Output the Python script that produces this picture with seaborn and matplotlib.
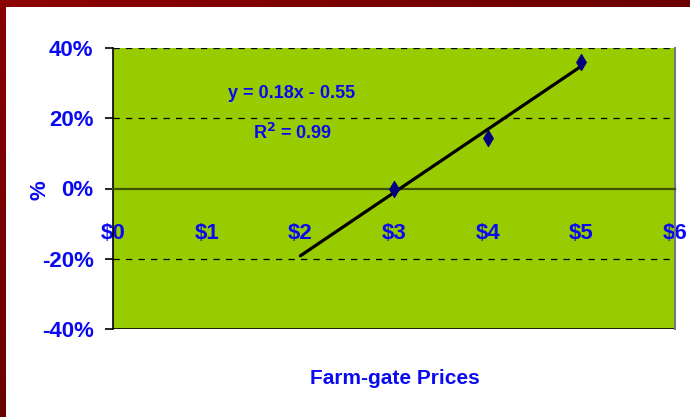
import numpy as np
import pandas as pd
import matplotlib
matplotlib.use("Agg")
import matplotlib.pyplot as plt
import seaborn as sns

# ---- data ----
prices = [3, 4, 5]                 # farm-gate price ($)
pct_change = [0.0, 0.145, 0.36]    # % change
x_ticks = [0, 1, 2, 3, 4, 5, 6]
x_tick_labels = ["$0", "$1", "$2", "$3", "$4", "$5", "$6"]
y_ticks = [-0.4, -0.2, 0.0, 0.2, 0.4]
y_tick_labels = ["-40%", "-20%", "0%", "20%", "40%"]
backward_forecast = 1

sns.set_theme(style="white")
FONT = ["Liberation Sans Narrow", "Liberation Sans", "DejaVu Sans"]
plt.rcParams["font.family"] = FONT
plt.rcParams["font.weight"] = "bold"

BLUE = "#0A0AF0"
GREEN = "#99CC00"

df = pd.DataFrame({"price": prices, "pct": pct_change})
slope, intercept = np.polyfit(df["price"], df["pct"], 1)
pred = slope * df["price"] + intercept
r2 = 1 - ((df["pct"] - pred) ** 2).sum() / ((df["pct"] - df["pct"].mean()) ** 2).sum()
fit_x = np.array([df["price"].min() - backward_forecast, df["price"].max()])
trend = pd.DataFrame({"price": fit_x, "pct": slope * fit_x + intercept})

fig = plt.figure(figsize=(6.9, 4.17), dpi=100)
fig.patch.set_facecolor("white")

# maroon frame (top and left)
grad = np.linspace(0, 1, 256).reshape(1, -1)
from matplotlib.colors import LinearSegmentedColormap
cm = LinearSegmentedColormap.from_list("m", ["#8E0404", "#7A0000", "#6A0000"])
top = fig.add_axes([0, 1 - 7 / 417, 1, 7 / 417])
top.imshow(grad, aspect="auto", cmap=cm)
top.axis("off")
left = fig.add_axes([0, 0, 6 / 690, 1])
left.imshow(grad.T, aspect="auto", cmap=LinearSegmentedColormap.from_list("m2", ["#8A0000", "#6A0000"]))
left.axis("off")

ax = fig.add_axes([113 / 690, 1 - 329 / 417, (675 - 113) / 690, (329 - 48) / 417])
ax.set_facecolor(GREEN)

sns.lineplot(data=trend, x="price", y="pct", ax=ax, color="black", lw=2.3, zorder=3)
sns.scatterplot(data=df, x="price", y="pct", ax=ax, marker="d", s=70,
                color="#000080", edgecolor="#000080", zorder=4)

ax.set_xlim(x_ticks[0], x_ticks[-1])
ax.set_ylim(y_ticks[0], y_ticks[-1])

# gridlines
for yv in y_ticks:
    if yv in (0.2, -0.2, 0.4):
        ax.axhline(yv, color="black", lw=0.9, ls=(0, (5, 5)), zorder=1)
ax.axhline(y_ticks[0], color="black", lw=1.2, zorder=2)

for s in ["top"]:
    ax.spines[s].set_visible(False)
ax.spines["left"].set_color("black")
ax.spines["left"].set_linewidth(1.2)
ax.spines["right"].set_color("#777777")
ax.spines["right"].set_linewidth(1.5)
ax.spines["bottom"].set_position(("data", 0))
ax.spines["bottom"].set_color("#3E5200")
ax.spines["bottom"].set_linewidth(1.6)

ax.set_xticks(x_ticks)
ax.set_xticklabels(x_tick_labels)
ax.set_yticks(y_ticks)
ax.set_yticklabels(y_tick_labels)
ax.tick_params(axis="x", direction="out", length=8, width=1.2, color="black",
               pad=17, labelsize=16, labelcolor=BLUE)
ax.tick_params(axis="y", direction="out", length=6, width=1.2, color="black",
               pad=8, labelsize=16, labelcolor=BLUE, left=True)
for lab in ax.get_xticklabels() + ax.get_yticklabels():
    lab.set_fontweight("bold")

ax.set_xlabel("")
ax.set_ylabel("")
fig.text(395 / 690, 1 - 379 / 417, "Farm-gate Prices", ha="center", va="center",
         color=BLUE, fontsize=15, fontweight="bold")
fig.text(40 / 690, 1 - 190 / 417, "%", ha="center", va="center", rotation=90,
         color=BLUE, fontsize=16, fontweight="bold")

ax.text(292 / 690, 1 - 93 / 417, f"y = {slope:.2f}x - {abs(intercept):.2f}",
        transform=fig.transFigure, ha="center", va="center", color=BLUE,
        fontsize=13, fontweight="bold")
ax.text(293 / 690, 1 - 133 / 417, f"R$^2$ = {r2:.2f}",
        transform=fig.transFigure, ha="center", va="center", color=BLUE,
        fontsize=13, fontweight="bold")

fig.savefig("out.png", dpi=100)
